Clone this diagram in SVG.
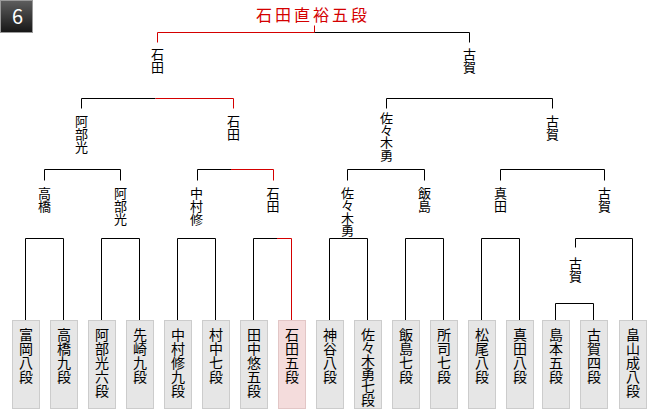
<svg xmlns="http://www.w3.org/2000/svg" width="660" height="410" viewBox="0 0 660 410">
<style>
  text { font-family: "Noto Sans CJK JP", "Noto Sans CJK SC", sans-serif; }
  .lbl { font-size: 13px; fill: #000; writing-mode: vertical-rl; text-orientation: upright; }
  .ptx { font-size: 14px; fill: #000; writing-mode: vertical-rl; text-orientation: upright; }
  .box { fill: #e6e6e6; stroke: #cccccc; stroke-width: 1; }
  .win { fill: #f4dcdc; stroke: #e2c6c6; stroke-width: 1; }
  .ln { fill: none; stroke: #000; stroke-width: 1; }
  .red { fill: none; stroke: #d40000; stroke-width: 1; }
  .title { font-size: 16px; fill: #d40000; letter-spacing: 3px; }
</style>
<defs>
  <linearGradient id="badgeGrad" x1="0" y1="0" x2="0" y2="1">
    <stop offset="0" stop-color="#5e5e5e"/>
    <stop offset="1" stop-color="#161616"/>
  </linearGradient>
</defs>
<rect width="660" height="410" fill="#ffffff"/>

<g id="badge">
  <rect x="0.5" y="0.5" width="32" height="32" fill="url(#badgeGrad)" stroke="#9a9a9a"/>
  <text x="17.5" y="24" font-family="'Liberation Sans', Arial, sans-serif" font-size="20" fill="#ffffff" text-anchor="middle">6</text>
</g>

<g id="champion">
  <text class="title" x="256" y="20.5">石田直裕五段</text>
</g>

<g id="connectors">
  <path class="red" d="M314.5,25.5 V32.5 H157.5 V42.5"/>
  <path class="ln" d="M314.5,32.5 H469.5 V42.5"/>

  <path class="ln" d="M155.5,98.5 H81.5 V108.5"/>
  <path class="red" d="M155.5,98.5 H233.5 V108.5"/>
  <path class="ln" d="M386.5,108.5 V98.5 H552.5 V108.5"/>

  <path class="ln" d="M44.5,180.5 V169.5 H120.5 V180.5"/>
  <path class="ln" d="M231,169.5 H197.5 V180.5"/>
  <path class="red" d="M231,169.5 H273.5 V180.5"/>
  <path class="ln" d="M347.5,180.5 V169.5 H424.5 V180.5"/>
  <path class="ln" d="M500.5,180.5 V169.5 H604.5 V180.5"/>

  <path class="ln" d="M25.5,320.5 V238.5 H63.5 V320.5"/>
  <path class="ln" d="M101.5,320.5 V238.5 H139.5 V320.5"/>
  <path class="ln" d="M177.5,320.5 V238.5 H215.5 V320.5"/>
  <path class="ln" d="M253.5,320.5 V238.5 H277"/>
  <path class="red" d="M277,238.5 H291.5 V320.5"/>
  <path class="ln" d="M329.5,320.5 V238.5 H367.5 V320.5"/>
  <path class="ln" d="M405.5,320.5 V238.5 H443.5 V320.5"/>
  <path class="ln" d="M481.5,320.5 V238.5 H519.5 V320.5"/>
  <path class="ln" d="M575.5,247.5 V238.5 H632.5 V320.5"/>
  <path class="ln" d="M555.5,320.5 V303.5 H593.5 V320.5"/>
</g>

<g id="sf-ishida"><text class="lbl" x="157.5" y="47.6">石田</text></g>
<g id="sf-koga"><text class="lbl" x="469.5" y="47.6">古賀</text></g>

<g id="qf-abe"><text class="lbl" x="81.5" y="114.4">阿部光</text></g>
<g id="qf-ishida"><text class="lbl" x="233.5" y="114.4">石田</text></g>
<g id="qf-sasaki"><text class="lbl" x="386.5" y="111.2" letter-spacing="-0.7">佐々木勇</text></g>
<g id="qf-koga"><text class="lbl" x="552.5" y="114.4">古賀</text></g>

<g id="r2-takahashi"><text class="lbl" x="44.5" y="186.6">高橋</text></g>
<g id="r2-abe"><text class="lbl" x="120.5" y="186.6">阿部光</text></g>
<g id="r2-nakamura"><text class="lbl" x="196.5" y="186.6">中村修</text></g>
<g id="r2-ishida"><text class="lbl" x="273" y="186.6">石田</text></g>
<g id="r2-sasaki"><text class="lbl" x="347.5" y="186.6" letter-spacing="-0.7">佐々木勇</text></g>
<g id="r2-iijima"><text class="lbl" x="424.5" y="186.6">飯島</text></g>
<g id="r2-sanada"><text class="lbl" x="500.5" y="186.6">真田</text></g>
<g id="r2-koga"><text class="lbl" x="604.5" y="186.6">古賀</text></g>

<g id="r1-koga"><text class="lbl" x="575.5" y="256.1">古賀</text></g>

<g id="p01"><rect class="box" x="12.5" y="320.5" width="27" height="88"/><text class="ptx" x="26" y="327.7">富岡八段</text></g>
<g id="p02"><rect class="box" x="50.5" y="320.5" width="27" height="88"/><text class="ptx" x="64" y="327.7">高橋九段</text></g>
<g id="p03"><rect class="box" x="88.5" y="320.5" width="27" height="88"/><text class="ptx" x="102" y="327.7">阿部光六段</text></g>
<g id="p04"><rect class="box" x="126.5" y="320.5" width="27" height="88"/><text class="ptx" x="140" y="327.7">先崎九段</text></g>
<g id="p05"><rect class="box" x="164.5" y="320.5" width="27" height="88"/><text class="ptx" x="178" y="327.7">中村修九段</text></g>
<g id="p06"><rect class="box" x="202.5" y="320.5" width="27" height="88"/><text class="ptx" x="216" y="327.7">村中七段</text></g>
<g id="p07"><rect class="box" x="240.5" y="320.5" width="27" height="88"/><text class="ptx" x="254" y="327.7">田中悠五段</text></g>
<g id="p08"><rect class="win" x="278.5" y="320.5" width="27" height="88"/><text class="ptx" x="292" y="327.7">石田五段</text></g>
<g id="p09"><rect class="box" x="316.5" y="320.5" width="27" height="88"/><text class="ptx" x="330" y="327.7">神谷八段</text></g>
<g id="p10"><rect class="box" x="354.5" y="320.5" width="27" height="88"/><text class="ptx" x="368" y="327.7" letter-spacing="-1">佐々木勇七段</text></g>
<g id="p11"><rect class="box" x="392.5" y="320.5" width="27" height="88"/><text class="ptx" x="406" y="327.7">飯島七段</text></g>
<g id="p12"><rect class="box" x="430.5" y="320.5" width="27" height="88"/><text class="ptx" x="444" y="327.7">所司七段</text></g>
<g id="p13"><rect class="box" x="468.5" y="320.5" width="27" height="88"/><text class="ptx" x="482" y="327.7">松尾八段</text></g>
<g id="p14"><rect class="box" x="506.5" y="320.5" width="27" height="88"/><text class="ptx" x="520" y="327.7">真田八段</text></g>
<g id="p15"><rect class="box" x="542.5" y="320.5" width="27" height="88"/><text class="ptx" x="556" y="327.7">島本五段</text></g>
<g id="p16"><rect class="box" x="580.5" y="320.5" width="27" height="88"/><text class="ptx" x="594" y="327.7">古賀四段</text></g>
<g id="p17"><rect class="box" x="619.5" y="320.5" width="27" height="88"/><text class="ptx" x="633" y="327.7">畠山成八段</text></g>
</svg>
